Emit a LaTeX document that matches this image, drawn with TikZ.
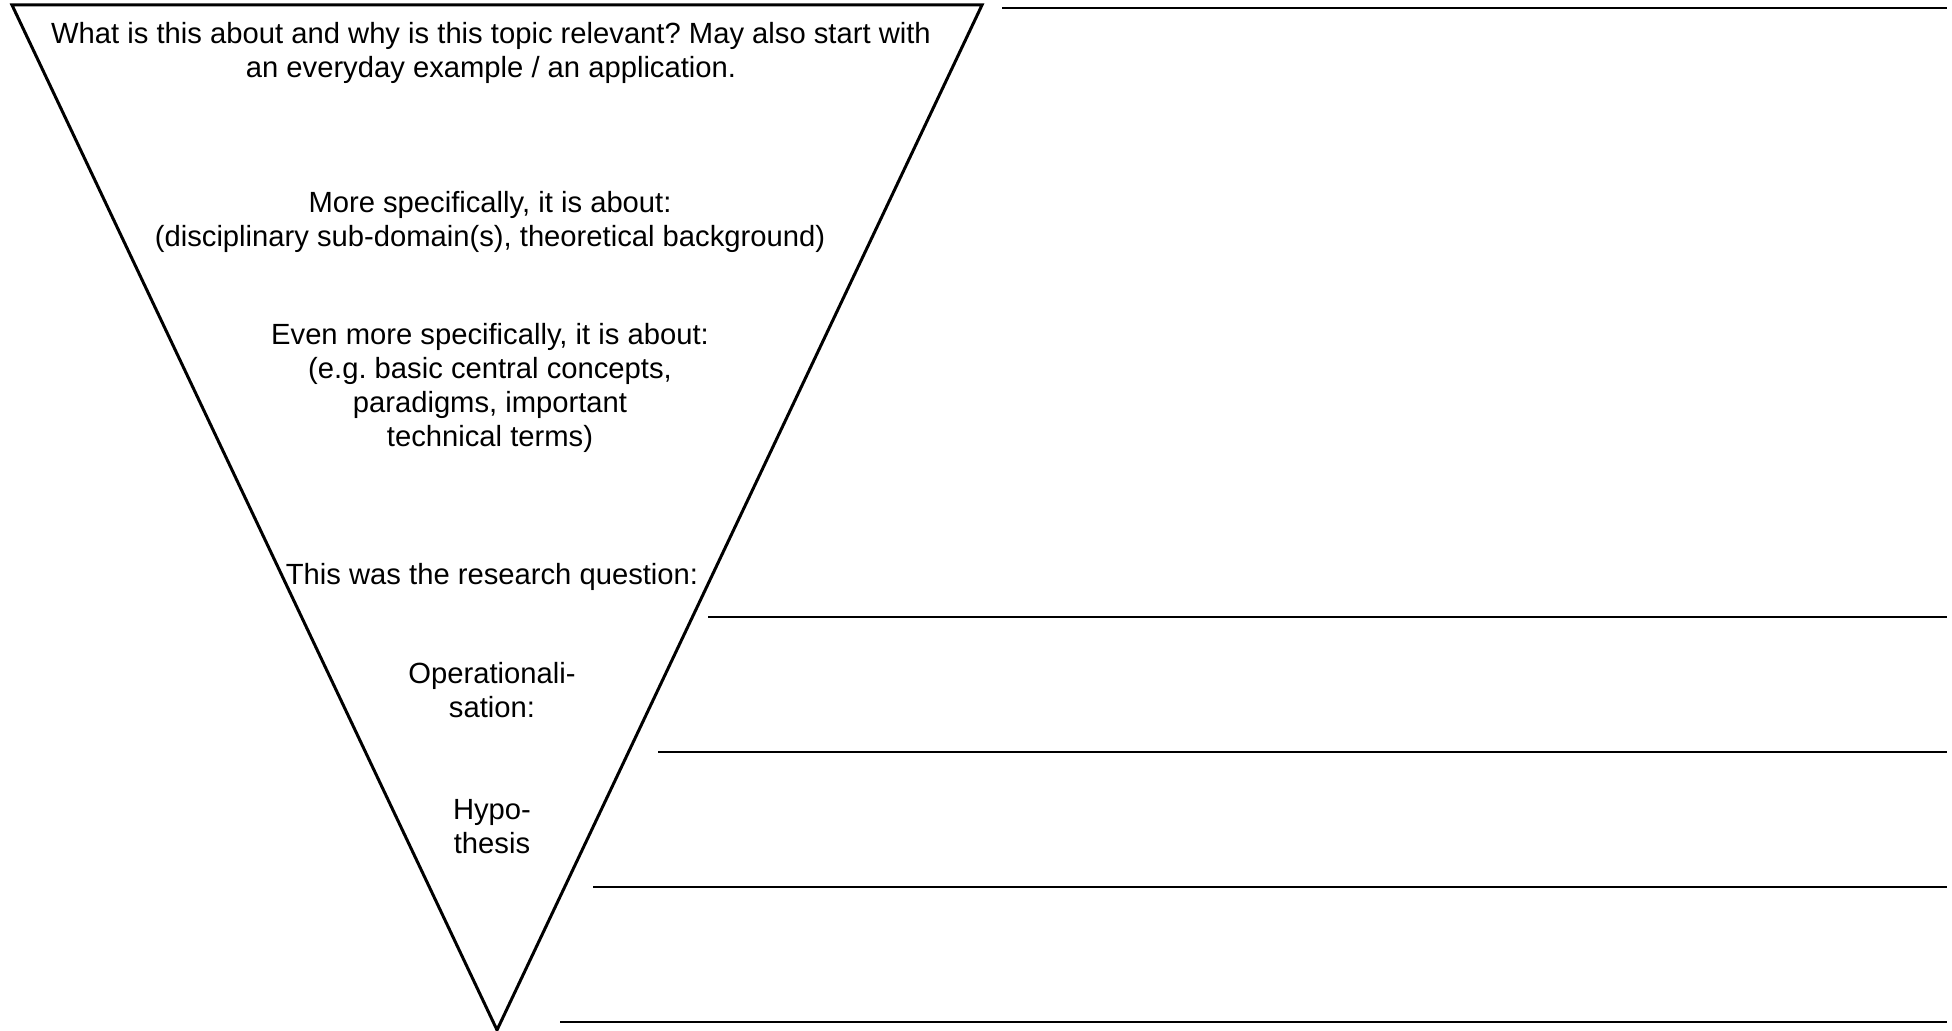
\documentclass[tikz,border=0pt]{standalone}
\usepackage{fontspec}
\setmainfont{Liberation Sans}
\begin{document}
\frenchspacing
\begin{tikzpicture}[x=0.5pt,y=-0.5pt,
  txt/.style={align=center,inner sep=0pt,font=\fontsize{14.6pt}{17pt}\selectfont},
  edge/.style={line width=1.5pt,line join=miter},
  rule/.style={line width=1.3pt}]
\useasboundingbox (0,0) rectangle (1952,1031);
\coordinate (tl) at (12,5);
\coordinate (tr) at (982,5);
\coordinate (ap) at (497,1030);
\draw[edge] (tl) -- (tr) -- (ap) -- cycle;
% answer lines
\coordinate (a1) at (1002,8); \coordinate (b1) at (1947,8);
\coordinate (a2) at (708,617); \coordinate (b2) at (1947,617);
\coordinate (a3) at (658,752); \coordinate (b3) at (1947,752);
\coordinate (a4) at (593,887); \coordinate (b4) at (1947,887);
\coordinate (a5) at (560,1022); \coordinate (b5) at (1947,1022);
\draw[rule] (a1) -- (b1);
\draw[rule] (a2) -- (b2);
\draw[rule] (a3) -- (b3);
\draw[rule] (a4) -- (b4);
\draw[rule] (a5) -- (b5);
% texts
\node[txt] (t1) at (491,53) {What is this about and why is this topic relevant? May also start with\\an everyday example / an application.};
\node[txt] (t2) at (490,222) {More specifically, it is about:\\(disciplinary sub-domain(s), theoretical background)};
\node[txt] (t3) at (490,388) {Even more specifically, it is about:\\(e.g. basic central concepts,\\paradigms, important\\technical terms)};
\node[txt] (t4) at (492,577) {This was the research question:};
\node[txt] (t5) at (492,690) {Operationali-\\sation:};
\node[txt] (t6) at (492,827) {Hypo-\\thesis};
\end{tikzpicture}
\end{document}
